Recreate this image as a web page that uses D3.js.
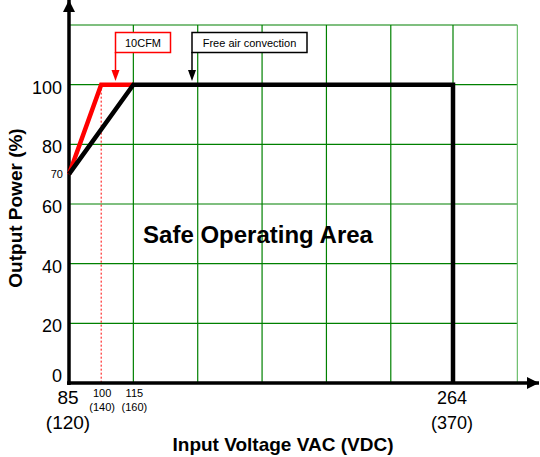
<!DOCTYPE html>
<html>
<head>
<meta charset="utf-8">
<script src="https://cdn.jsdelivr.net/npm/d3@7"></script>
<style>
  body { margin: 0; background: #fff; }
  text { font-family: "Liberation Sans", Arial, sans-serif; }
</style>
</head>
<body>
<script>
// data
const freeAirCurve = [[85, 70], [115, 100], [264, 100], [264, 0]];
const cfmCurve = [[85, 70], [100, 100], [115, 100]];
const yTicks = [0, 20, 40, 60, 80, 100];
const yGrid = [20, 40, 60, 80, 100, 120];
const xGrid = [115, 145, 175, 205, 235, 264, 294];
const xBigTicks = [{ v: 85, ac: "85", dc: "(120)" }, { v: 264, ac: "264", dc: "(370)" }];
const xSmallTicks = [{ v: 100, ac: "100", dc: "(140)" }, { v: 115, ac: "115", dc: "(160)" }];

const svg = d3.select('body')
    .append('svg')
    .attr("width", 540)
    .attr("height", 457);

const x = d3.scaleLinear().domain([85, 264]).range([69, 453]);
const y = d3.scaleLinear().domain([0, 120]).range([383, 25]);

const grid_g = svg.append('g');

// horizontal grid
grid_g.selectAll(".hgrid")
    .data(yGrid)
    .enter().append("line")
    .attr("x1", x(85)).attr("x2", x(294))
    .attr("y1", d => y(d)).attr("y2", d => y(d))
    .attr("stroke", "#008000")
    .attr("stroke-width", 1.2);

// vertical grid
grid_g.selectAll(".vgrid")
    .data(xGrid)
    .enter().append("line")
    .attr("x1", d => x(d)).attr("x2", d => x(d))
    .attr("y1", y(120)).attr("y2", y(0))
    .attr("stroke", (d, i) => i == xGrid.length - 1 ? "#6cbf6c" : "#008000")
    .attr("stroke-width", 1.2);

// dotted line at 100 VAC
svg.append("line")
    .attr("x1", x(100)).attr("x2", x(100))
    .attr("y1", y(100)).attr("y2", y(0))
    .attr("stroke", "#ff0000")
    .attr("stroke-width", 1)
    .attr("stroke-dasharray", "2,2");

// axes with arrows
svg.append("defs").append("marker")
    .attr("id", "bigArrow")
    .attr("viewBox", "0 0 10 10")
    .attr("refX", 10).attr("refY", 5)
    .attr("markerWidth", 16).attr("markerHeight", 12)
    .attr("markerUnits", "userSpaceOnUse")
    .attr("orient", "auto")
    .append("path")
    .attr("d", "M0,0 L10,5 L0,10 Z")
    .attr("fill", "#000");

svg.append("line")
    .attr("x1", x(85)).attr("x2", x(85))
    .attr("y1", y(0) + 2).attr("y2", 0)
    .attr("stroke", "#000").attr("stroke-width", 3.5)
    .attr("marker-end", "url(#bigArrow)");

svg.append("line")
    .attr("x1", x(85) - 2).attr("x2", 539)
    .attr("y1", y(0)).attr("y2", y(0))
    .attr("stroke", "#000").attr("stroke-width", 3.5)
    .attr("marker-end", "url(#bigArrow)");

// curves
const line = d3.line().x(d => x(d[0])).y(d => y(d[1]));

svg.append("path")
    .datum(cfmCurve)
    .attr("d", line)
    .attr("fill", "none")
    .attr("stroke", "#ff0000")
    .attr("stroke-width", 4.5);

svg.append("path")
    .datum(freeAirCurve)
    .attr("d", line)
    .attr("fill", "none")
    .attr("stroke", "#000")
    .attr("stroke-width", 4.5);

// y tick labels
svg.selectAll(".ylab")
    .data(yTicks)
    .enter().append("text")
    .attr("x", 62)
    .attr("y", d => d == 0 ? y(d) - 1 : y(d) + 9)
    .attr("text-anchor", "end")
    .attr("font-size", 18)
    .text(d => d);

svg.append("text")
    .attr("x", 63).attr("y", y(70) + 4)
    .attr("text-anchor", "end")
    .attr("font-size", 11)
    .text("70");

// x tick labels
xBigTicks.forEach(t => {
    svg.append("text")
        .attr("x", x(t.v) - 1).attr("y", 404)
        .attr("text-anchor", "middle").attr("font-size", t.v == 85 ? 19 : 18)
        .text(t.ac);
    svg.append("text")
        .attr("x", x(t.v) - 1).attr("y", 429)
        .attr("text-anchor", "middle").attr("font-size", t.v == 85 ? 19 : 18)
        .text(t.dc);
});

xSmallTicks.forEach(t => {
    svg.append("text")
        .attr("x", x(t.v) + 1).attr("y", 397)
        .attr("text-anchor", "middle").attr("font-size", 11)
        .text(t.ac);
    svg.append("text")
        .attr("x", x(t.v) + 1).attr("y", 411)
        .attr("text-anchor", "middle").attr("font-size", 11)
        .text(t.dc);
});

// axis titles
svg.append("text")
    .attr("x", 283).attr("y", 451)
    .attr("text-anchor", "middle")
    .attr("font-size", 19).attr("font-weight", "bold")
    .text("Input Voltage VAC (VDC)");

svg.append("text")
    .attr("transform", "translate(22,208) rotate(-90)")
    .attr("text-anchor", "middle")
    .attr("font-size", 19).attr("font-weight", "bold")
    .text("Output Power (%)");

svg.append("text")
    .attr("x", 258).attr("y", 243)
    .attr("text-anchor", "middle")
    .attr("font-size", 24).attr("font-weight", "bold")
    .text("Safe Operating Area");

// callouts
function callout(bx, bw, label, color) {
    const g = svg.append("g");
    g.append("rect")
        .attr("x", bx).attr("y", 32.5)
        .attr("width", bw).attr("height", 20)
        .attr("fill", "#fff")
        .attr("stroke", color).attr("stroke-width", 1.5);
    g.append("text")
        .attr("x", bx + bw / 2).attr("y", 46.5)
        .attr("text-anchor", "middle").attr("font-size", 11)
        .text(label);
    g.append("line")
        .attr("x1", bx).attr("x2", bx)
        .attr("y1", 52).attr("y2", 72)
        .attr("stroke", color).attr("stroke-width", 1.5);
    g.append("path")
        .attr("d", `M${bx - 4},70 L${bx + 4},70 L${bx},81 Z`)
        .attr("fill", color);
}

callout(115.5, 55, "10CFM", "#ff0000");
callout(192, 115, "Free air convection", "#000");
</script>
</body>
</html>
